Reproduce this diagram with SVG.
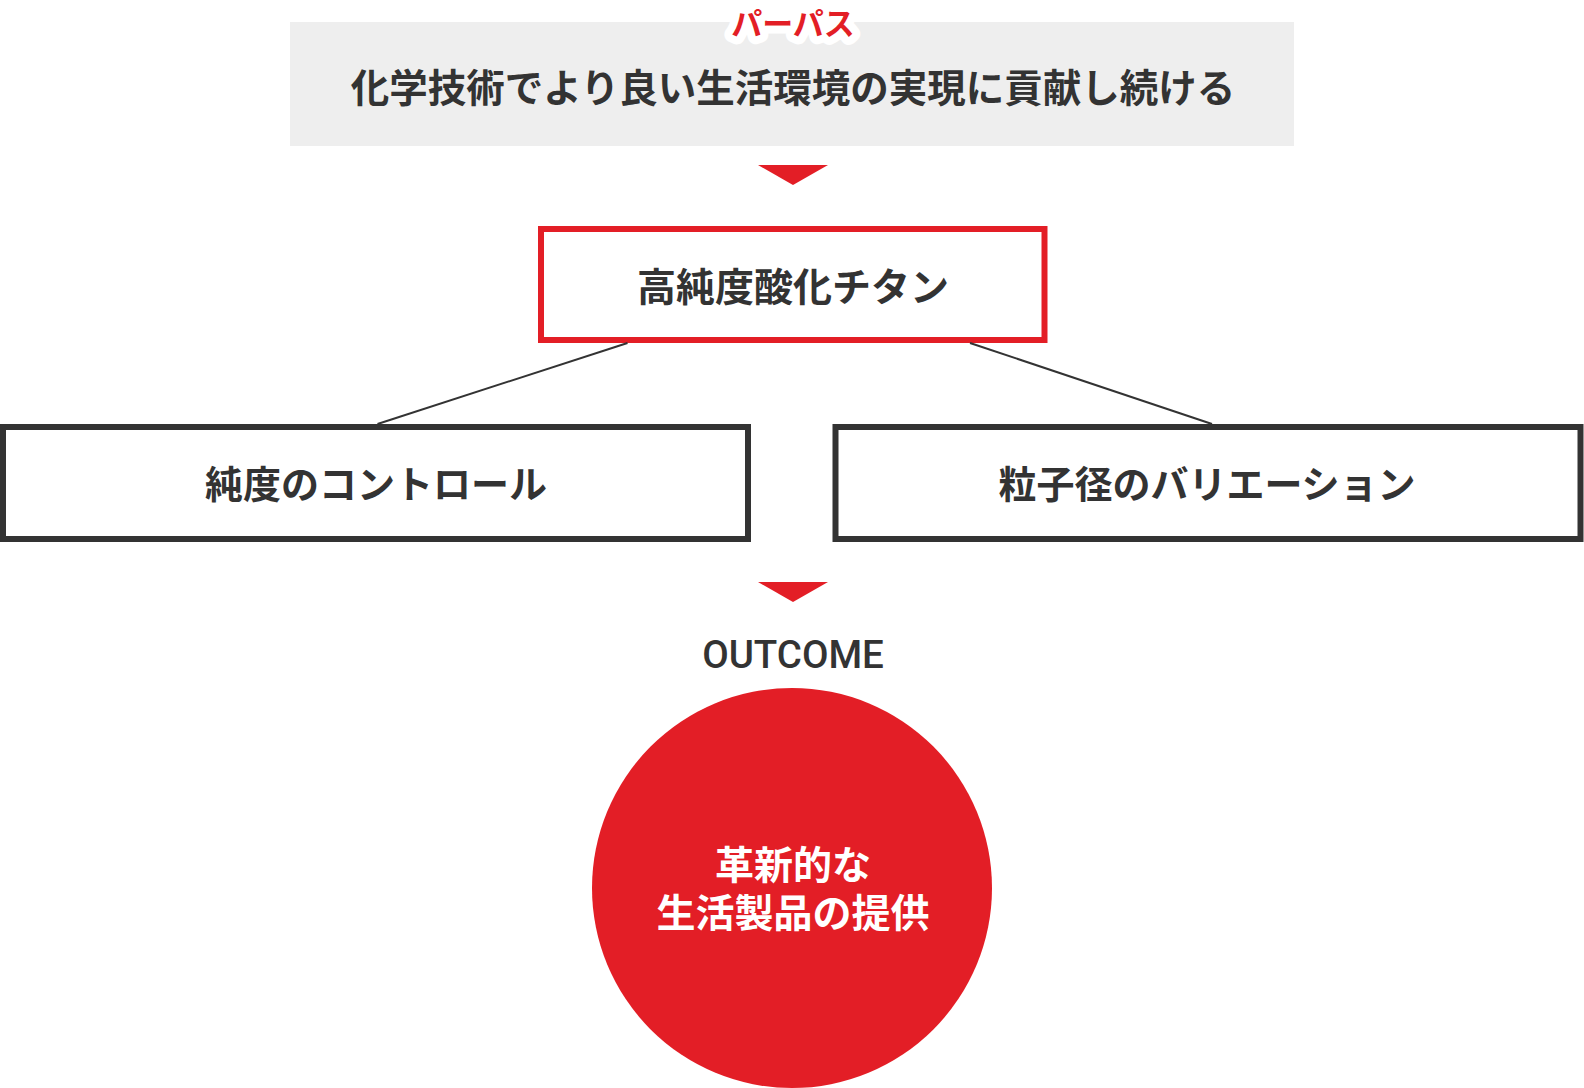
<svg xmlns="http://www.w3.org/2000/svg" width="1584" height="1088" viewBox="0 0 1584 1088">
<defs>
<style>
.jp{font-family:"Noto Sans CJK JP","Noto Sans",sans-serif;font-weight:700;fill:#333333;text-anchor:middle}
.box{fill:#ffffff;stroke:#333333;stroke-width:6}
.red{fill:#e31e26}
.conn{stroke:#333333;stroke-width:2;fill:none}
</style>
</defs>
<rect width="1584" height="1088" fill="#ffffff"/>
<g id="purpose">
<rect x="290" y="22" width="1004" height="124" fill="#eeeeee"/>
<text x="793" y="35" class="jp" style="font-size:31px;fill:#e31e26;stroke:#ffffff;stroke-width:16;stroke-linejoin:round;paint-order:stroke">パーパス</text>
<text x="793" y="102" class="jp" style="font-size:38.5px">化学技術でより良い生活環境の実現に貢献し続ける</text>
</g>
<g id="arrow1"><polygon class="red" points="758,165 828,165 793,185"/></g>
<g id="titanium">
<rect x="541" y="229" width="503.5" height="111" fill="#ffffff" stroke="#e31e26" stroke-width="6"/>
<text x="793" y="300.5" class="jp" style="font-size:39px">高純度酸化チタン</text>
</g>
<g id="connectors">
<line class="conn" x1="627.5" y1="343" x2="377.5" y2="424"/>
<line class="conn" x1="970" y1="343" x2="1212" y2="424"/>
</g>
<g id="purity">
<rect class="box" x="3" y="427" width="745" height="112"/>
<text x="376" y="498" class="jp" style="font-size:38px">純度のコントロール</text>
</g>
<g id="particle">
<rect class="box" x="835.5" y="427" width="745" height="112"/>
<text x="1207" y="498" class="jp" style="font-size:38px">粒子径のバリエーション</text>
</g>
<g id="arrow2"><polygon class="red" points="758,582 828,582 793,602"/></g>
<g id="outcome-label">
<text x="793" y="668" style="font-family:Roboto,'Liberation Sans',sans-serif;font-weight:500;font-size:38.5px;fill:#333333;text-anchor:middle">OUTCOME</text>
</g>
<g id="outcome">
<circle class="red" cx="792" cy="888" r="200"/>
<text class="jp" style="font-size:39px;fill:#ffffff"><tspan x="793" y="879">革新的な</tspan><tspan x="793" y="927">生活製品の提供</tspan></text>
</g>
</svg>
